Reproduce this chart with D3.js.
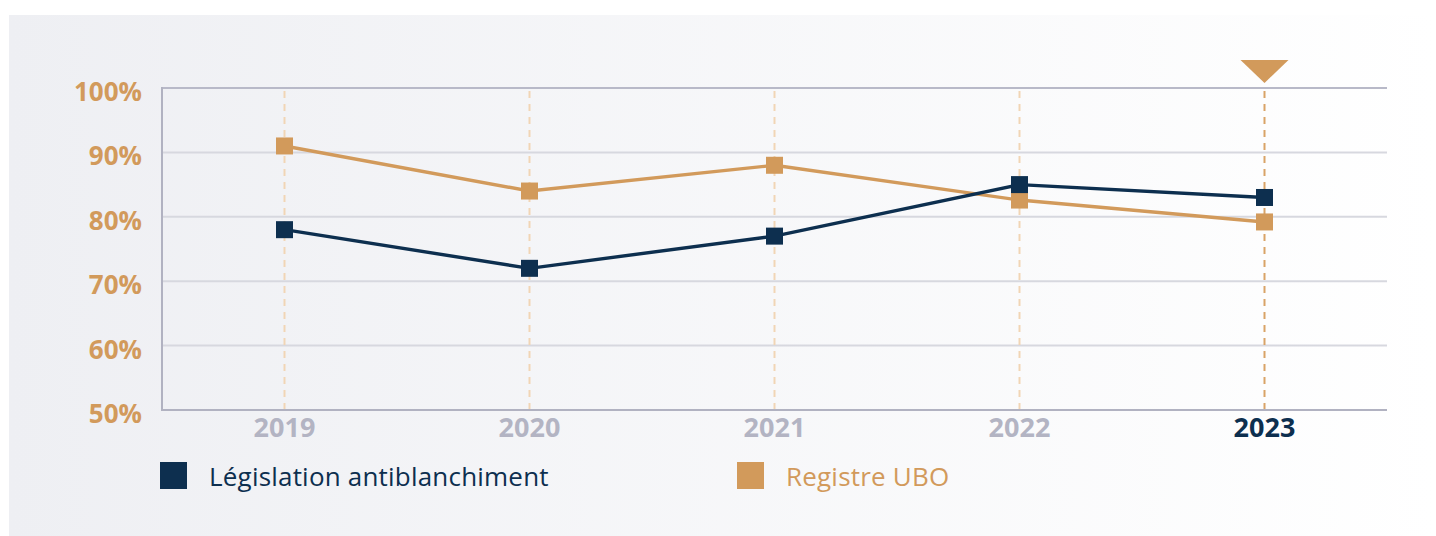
<!DOCTYPE html>
<html>
<head>
<meta charset="utf-8">
<script src="https://cdn.jsdelivr.net/npm/d3@7"></script>
<style>
  html, body { margin: 0; padding: 0; background: #ffffff; }
  svg { display: block; }
</style>
</head>
<body>
<svg id="chart" width="1436" height="536"></svg>
<script>
// 데이터
const years = ["2019", "2020", "2021", "2022", "2023"];
const legislation = [78, 72, 77, 85, 83];
const registreUBO = [91, 84, 88, 82.6, 79.2];
const yTicks = [50, 60, 70, 80, 90, 100];
const seriesNames = ["Législation antiblanchiment", "Registre UBO"];
const highlightYear = "2023";

const navy = "#0d2f4f";
const gold = "#d29a5b";
const font = "'Open Sans', Lato, sans-serif";

const svg = d3.select("#chart");

// 배경 그라데이션
const defs = svg.append("defs");
const grad = defs.append("linearGradient").attr("id", "bg").attr("x1", "0").attr("x2", "1");
grad.append("stop").attr("offset", "0").attr("stop-color", "#eeeff3");
grad.append("stop").attr("offset", "1").attr("stop-color", "#ffffff");
svg.append("rect")
    .attr("x", 9).attr("y", 15)
    .attr("width", 1427).attr("height", 521)
    .style("fill", "url(#bg)");

const x = d3.scalePoint().domain(years).range([162, 1387]).padding(0.5);
const y = d3.scaleLinear().domain([50, 100]).range([410, 88]);

// 그리드
svg.selectAll("line.grid")
    .data(yTicks.filter(d => d > 50 && d < 100))
    .join("line")
    .attr("class", "grid")
    .attr("x1", 162).attr("x2", 1387)
    .attr("y1", d => y(d)).attr("y2", d => y(d))
    .style("stroke", "#d7d8df")
    .style("stroke-width", 2);

// 세로 점선
svg.selectAll("line.vdash")
    .data(years)
    .join("line")
    .attr("class", "vdash")
    .attr("x1", d => x(d)).attr("x2", d => x(d))
    .attr("y1", y(100) + 3).attr("y2", y(50))
    .style("stroke", d => d === highlightYear ? "#d9a367" : "#f1d5b5")
    .style("stroke-width", 2)
    .style("stroke-dasharray", "7,6");

// 축
svg.append("line")
    .attr("x1", 162).attr("x2", 1387).attr("y1", y(100)).attr("y2", y(100))
    .style("stroke", "#b8b9c8").style("stroke-width", 2);
svg.append("line")
    .attr("x1", 162).attr("x2", 1387).attr("y1", y(50)).attr("y2", y(50))
    .style("stroke", "#b1b2c1").style("stroke-width", 2);
svg.append("line")
    .attr("x1", 162).attr("x2", 162).attr("y1", y(100) - 1).attr("y2", y(50) + 1)
    .style("stroke", "#b1b2c1").style("stroke-width", 2);

// Y 라벨
svg.selectAll("text.ytick")
    .data(yTicks)
    .join("text")
    .attr("class", "ytick")
    .attr("x", 142)
    .attr("y", d => y(d) + 13)
    .attr("text-anchor", "end")
    .style("font-family", font)
    .style("font-weight", 700)
    .style("font-size", "26px")
    .style("fill", gold)
    .text(d => d + "%");

// X 라벨
svg.selectAll("text.xtick")
    .data(years)
    .join("text")
    .attr("class", "xtick")
    .attr("x", d => x(d))
    .attr("y", 437)
    .attr("text-anchor", "middle")
    .style("font-family", font)
    .style("font-weight", 700)
    .style("font-size", "27px")
    .style("fill", d => d === highlightYear ? navy : "#b3b4c3")
    .text(d => d);

// 삼각형 표시
const tx = x(highlightYear);
svg.append("path")
    .attr("d", `M${tx - 24},60 L${tx + 24},60 L${tx},83 Z`)
    .style("fill", gold);

// 라인 + 마커
const series = [
    { name: seriesNames[1], values: registreUBO, color: gold },
    { name: seriesNames[0], values: legislation, color: navy }
];
const line = d3.line().x((d, i) => x(years[i])).y(d => y(d));

series.forEach(s => {
    svg.append("path")
        .datum(s.values)
        .attr("d", line)
        .style("fill", "none")
        .style("stroke", s.color)
        .style("stroke-width", 3.4);
});
series.forEach(s => {
    svg.selectAll(null)
        .data(s.values)
        .join("rect")
        .attr("x", (d, i) => x(years[i]) - 8.5)
        .attr("y", d => y(d) - 8.5)
        .attr("width", 17).attr("height", 17)
        .style("fill", s.color);
});

// 범례
const legendItems = [
    { name: seriesNames[0], color: navy, x: 160 },
    { name: seriesNames[1], color: gold, x: 737 }
];
const lg = svg.selectAll("g.legend")
    .data(legendItems)
    .join("g")
    .attr("class", "legend")
    .attr("transform", d => `translate(${d.x}, 462)`);
lg.append("rect")
    .attr("width", 27).attr("height", 27)
    .style("fill", d => d.color);
lg.append("text")
    .attr("x", 49)
    .attr("y", 24)
    .style("font-family", font)
    .style("font-size", "26px")
    .style("letter-spacing", "0.2px")
    .style("fill", d => d.color)
    .text(d => d.name);
</script>
</body>
</html>
